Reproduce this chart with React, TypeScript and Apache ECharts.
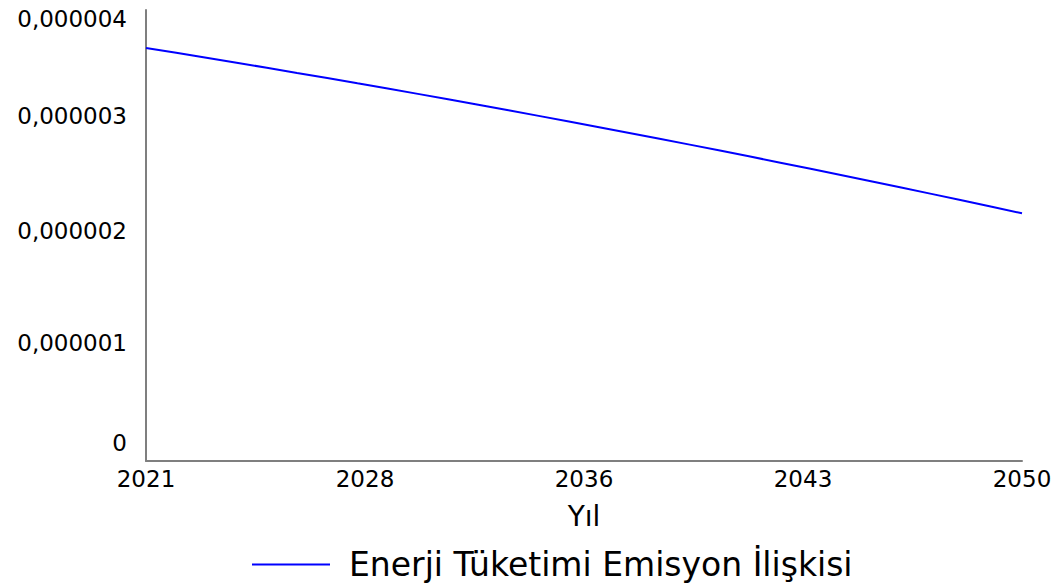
import React, { useEffect, useRef } from "react";
import * as echarts from "echarts";

// Years on the horizontal axis (2021–2050)
const YEARS = [
  2021, 2022, 2023, 2024, 2025, 2026, 2027, 2028, 2029, 2030,
  2031, 2032, 2033, 2034, 2035, 2036, 2037, 2038, 2039, 2040,
  2041, 2042, 2043, 2044, 2045, 2046, 2047, 2048, 2049, 2050,
];

// Energy consumption – emission relation, one value per year
const EMISSION = [
  3.663e-6, 3.620e-6, 3.576e-6, 3.532e-6, 3.488e-6, 3.442e-6, 3.397e-6, 3.350e-6, 3.304e-6, 3.256e-6,
  3.208e-6, 3.160e-6, 3.111e-6, 3.061e-6, 3.011e-6, 2.961e-6, 2.910e-6, 2.858e-6, 2.806e-6, 2.753e-6,
  2.700e-6, 2.646e-6, 2.592e-6, 2.537e-6, 2.482e-6, 2.426e-6, 2.369e-6, 2.312e-6, 2.255e-6, 2.197e-6,
];

const SERIES_NAME = "Enerji Tüketimi Emisyon İlişkisi";
const X_NAME = "Yıl";

// Tick labels
const X_TICK_LABELS = ["2021", "2028", "2036", "2043", "2050"];
const Y_TICK_LABELS = ["0", "0,000001", "0,000002", "0,000003", "0,000004"];

const FONT = "'DejaVu Sans', sans-serif";

export default function App() {
  const ref = useRef<HTMLDivElement>(null);

  useEffect(() => {
    if (!ref.current) return;
    const chart = echarts.init(ref.current, null, { renderer: "svg" });

    const first = YEARS[0];
    const span = YEARS[YEARS.length - 1] - first;
    const xStep = span / (X_TICK_LABELS.length - 1);
    const yStep = 1e-6;
    const yKeys = ["b0", "b1", "b2", "b3", "t4"];
    const labelBase = { fontFamily: FONT, fontSize: 23, color: "#000" };

    chart.setOption({
      animation: false,
      backgroundColor: "#fff",
      grid: { left: 146, right: 41, top: 10, bottom: 122 },
      xAxis: {
        type: "value",
        min: 0,
        max: span,
        interval: xStep,
        name: X_NAME,
        nameLocation: "middle",
        nameGap: 41,
        nameTextStyle: { fontFamily: FONT, fontSize: 28, color: "#000" },
        axisLine: { show: true, lineStyle: { color: "#7f7f7f", width: 2 } },
        axisTick: { show: false },
        splitLine: { show: false },
        axisLabel: {
          fontFamily: FONT,
          fontSize: 23,
          color: "#000",
          margin: 6,
          formatter: (v: number) => X_TICK_LABELS[Math.round(v / xStep)] ?? "",
        },
      },
      yAxis: {
        type: "value",
        min: 0,
        max: 4e-6,
        interval: yStep,
        axisLine: { show: true, lineStyle: { color: "#7f7f7f", width: 2 } },
        axisTick: { show: false },
        splitLine: { show: false },
        axisLabel: {
          ...labelBase,
          margin: 19,
          formatter: (v: number) => {
            const i = Math.round(v / yStep);
            return `{${yKeys[i]}|${Y_TICK_LABELS[i]}}`;
          },
          rich: {
            b0: { ...labelBase, padding: [0, 0, 36, 0] },
            b1: { ...labelBase, padding: [0, 0, 10, 0] },
            b2: { ...labelBase, padding: [0, 0, 10, 0] },
            b3: { ...labelBase, padding: [0, 0, 13, 0] },
            t4: { ...labelBase, padding: [18, 0, 0, 0] },
          },
        },
      },
      legend: {
        left: 252,
        top: 548,
        padding: 0,
        icon: "rect",
        itemWidth: 78,
        itemHeight: 2,
        textStyle: {
          fontFamily: FONT,
          fontSize: 33,
          color: "#000",
          padding: [0, 0, 12, 14],
        },
        data: [SERIES_NAME],
      },
      series: [
        {
          name: SERIES_NAME,
          type: "line",
          data: YEARS.map((y, i) => [y - first, EMISSION[i]]),
          showSymbol: false,
          lineStyle: { color: "#0000ff", width: 2 },
          itemStyle: { color: "#0000ff" },
        },
      ],
    });

    return () => chart.dispose();
  }, []);

  return (
    <div
      ref={ref}
      style={{ position: "absolute", left: 0, top: 0, width: 1063, height: 583 }}
    />
  );
}
